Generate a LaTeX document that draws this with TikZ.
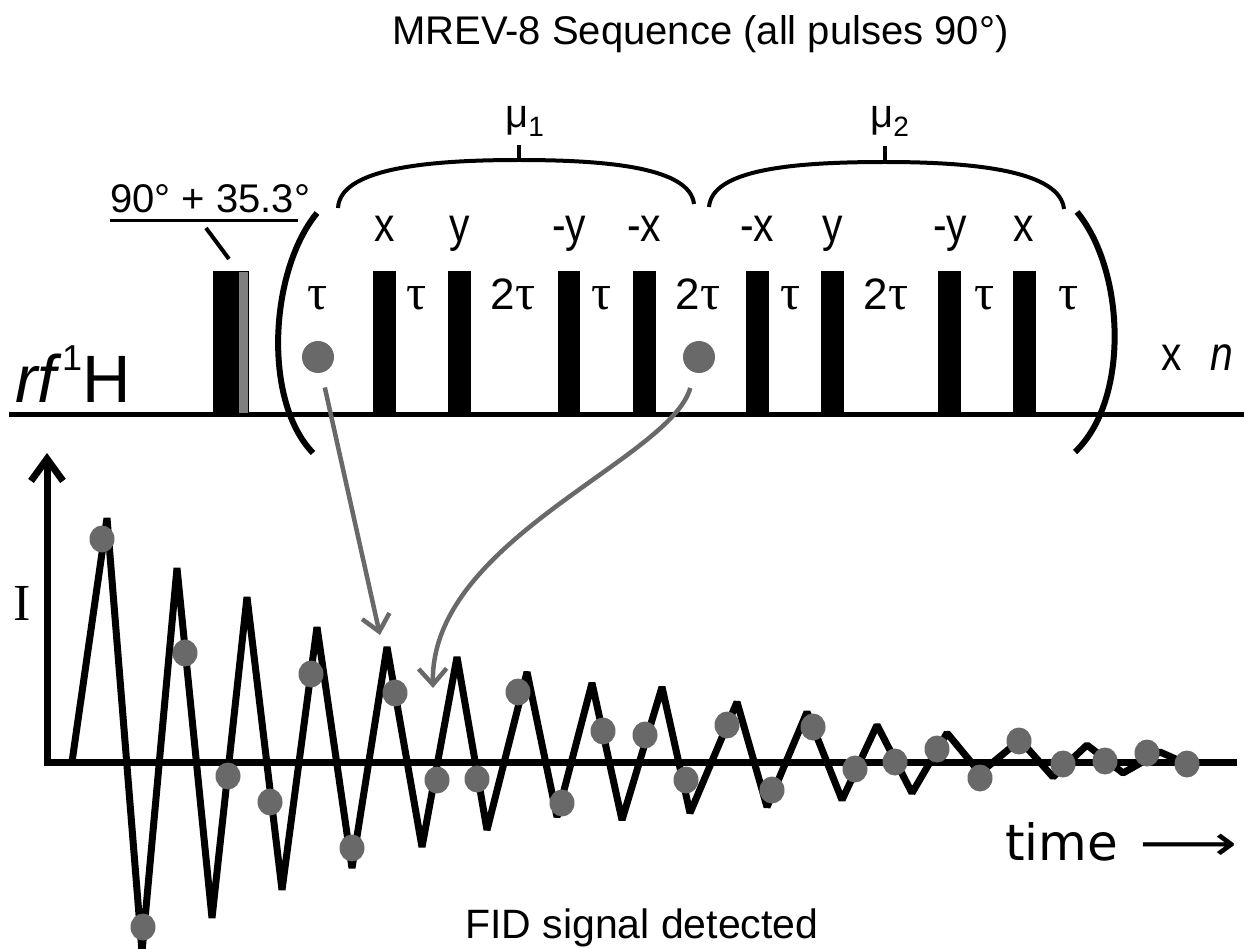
\documentclass[tikz,border=0pt]{standalone}
\usepackage{graphicx}
\usepackage{fontspec}
\setmainfont{Liberation Sans}
\newfontfamily\narrowfont{Liberation Sans}[FakeStretch=0.85]
\newfontfamily\taufont{Liberation Serif}
\newfontfamily\timefont{DejaVu Sans}
\usetikzlibrary{arrows.meta}
\definecolor{dotgray}{RGB}{105,105,105}
\definecolor{pulsegray}{RGB}{128,128,128}
\newcommand{\fsize}[1]{\fontsize{#1}{#1}\selectfont}
\newcommand{\tauglyph}{{\taufont\fsize{50}τ}}

\begin{document}
\begin{tikzpicture}[x=1pt, y=-1pt,
    pulse/.style={fill=black},
    pulselabel/.style={font=\narrowfont\fsize{48}, anchor=base, inner sep=0pt},
    delaylabel/.style={font=\fsize{44}, anchor=base, inner sep=0pt},
    plainlabel/.style={anchor=base west, inner sep=0pt},
    sampledot/.style={circle, fill=dotgray, inner sep=0pt, minimum size=32pt},
    samplearrow/.style={draw=dotgray, line width=4.5pt, -{Straight Barb[length=16pt,width=28pt]}},
    bracket/.style={line width=6pt},
    brace/.style={line width=4pt},
    fid/.style={line width=7pt}]

    \useasboundingbox (0,0) rectangle (1244,949);

    % Titel
    \node[plainlabel, font=\fsize{40}] (title) at (392,45) {MREV-8 Sequence (all pulses 90°)};

    % rf-Kanal
    \draw[line width=5pt] (9,414) -- (1244,414);
    \node[plainlabel, font=\fsize{67}] (rf) at (15,402) {\itshape rf\upshape\hspace{6pt}\raisebox{32pt}{\fsize{36}1}H};

    % Vorpuls 90 + 35.3
    \fill[pulse] (213,271) rectangle (238,414);
    \filldraw[fill=pulsegray, draw=black, line width=1pt] (238,272) rectangle (248,413);
    \node[plainlabel, font=\fsize{40}] (prep) at (110,213) {90° + 35.3°};
    \draw[line width=3pt] (110,221) -- (298,221);
    \draw[line width=4pt] (206,228) -- (229,259);

    % MREV-8 Pulse
    \fill[pulse] (373,271) rectangle (396,414);
    \fill[pulse] (448,271) rectangle (471,414);
    \fill[pulse] (558,271) rectangle (580,414);
    \fill[pulse] (633,271) rectangle (656,414);
    \fill[pulse] (746,271) rectangle (769,414);
    \fill[pulse] (821,271) rectangle (844,414);
    \fill[pulse] (938,271) rectangle (961,414);
    \fill[pulse] (1013,271) rectangle (1036,414);

    % Phasen
    \node[pulselabel] (ph1) at (385,242) {x};
    \node[pulselabel] (ph2) at (460,242) {y};
    \node[pulselabel] (ph3) at (569,242) {-y};
    \node[pulselabel] (ph4) at (644,242) {-x};
    \node[pulselabel] (ph5) at (757,242) {-x};
    \node[pulselabel] (ph6) at (833,242) {y};
    \node[pulselabel] (ph7) at (950,242) {-y};
    \node[pulselabel] (ph8) at (1024,242) {x};

    % Abstaende
    \node[delaylabel] (d1) at (318,309) {\tauglyph};
    \node[delaylabel] (d2) at (417,309) {\tauglyph};
    \node[delaylabel] (d3) at (513,309) {2\tauglyph};
    \node[delaylabel] (d4) at (602,309) {\tauglyph};
    \node[delaylabel] (d5) at (698,309) {2\tauglyph};
    \node[delaylabel] (d6) at (791,309) {\tauglyph};
    \node[delaylabel] (d7) at (886,309) {2\tauglyph};
    \node[delaylabel] (d8) at (985,309) {\tauglyph};
    \node[delaylabel] (d9) at (1069,309) {\tauglyph};

    % Klammern
    \draw[bracket] (317,213) .. controls (270,270) and (262,400) .. (313,453);
    \draw[bracket] (1077,212) .. controls (1125,270) and (1130,400) .. (1075,452);
    \node[plainlabel, font=\narrowfont\fsize{48}] (times) at (1161,370) {x\hspace{29pt}\textit{n}};

    % Zyklen mu1, mu2
    \draw[brace] (338,208) .. controls (340,170) and (420,160) .. (519,160) .. controls (610,160) and (690,168) .. (694,204);
    \draw[brace] (519,160) -- (519,145);
    \node[plainlabel, font=\fsize{40}] (mu1) at (505,128) {μ\raisebox{-9pt}{\fsize{28}1}};
    \draw[brace] (709,207) .. controls (712,170) and (790,162) .. (885,162) .. controls (980,162) and (1060,172) .. (1064,209);
    \draw[brace] (885,162) -- (885,146);
    \node[plainlabel, font=\fsize{40}] (mu2) at (870,128) {μ\raisebox{-9pt}{\fsize{28}2}};

    % Abtastpunkte
    \node[sampledot] (dotA) at (318,357) {};
    \node[sampledot] (dotB) at (699,357) {};

    % FID
    \draw[fid, {Straight Barb[length=22pt,width=32pt]}-] (47,453) -- (47,762) -- (1237,762);
    \node[font=\taufont\fsize{52}, inner sep=0pt] (intens) at (22,603) {I};
    \draw[fid, line join=bevel] (72,762) -- (107,518) -- (142,952) -- (177,568) -- (212,918) -- (247,597)
        -- (282,890) -- (317,627) -- (352,868) -- (387,647) -- (422,847) -- (457,657)
        -- (487,830) -- (527,672) -- (557,817) -- (592,683) -- (622,820) -- (662,687)
        -- (690,813) -- (737,702) -- (767,807) -- (807,712) -- (842,800) -- (877,725)
        -- (912,793) -- (947,733) -- (980,773) -- (1020,740) -- (1053,777) -- (1087,745)
        -- (1123,773) -- (1160,752) -- (1187,764);
    \foreach \px/\py in {102/539, 143/927, 185/653, 228/776, 270/802, 311/674, 352/848,
        395/693, 437/780, 477/779, 518/692, 562/803, 603/731, 645/735, 686/780, 727/725,
        772/790, 813/727, 855/769, 895/762, 937/749, 980/778, 1019/741, 1063/764,
        1105/761, 1147/753, 1187/764}
        \fill[dotgray] (\px,\py) ellipse (12.5pt and 13.5pt);
    \node[plainlabel, font=\fsize{41}] (fidlabel) at (465,938) {FID signal detected};
    \node[plainlabel, font=\timefont\fsize{50}] (timelabel) at (1005,860) {time\hspace{5pt} \scalebox{1.37}[1]{⟶}};

    % Zuordnung der Abtastpunkte
    \coordinate (tipA) at (380,635);
    \coordinate (tipB) at (433,688);
    \draw[samplearrow, shorten <=15pt] (dotA) -- (tipA);
    \draw[samplearrow, shorten <=16pt] (dotB) .. controls (670,460) and (430,540) .. (tipB);
\end{tikzpicture}
\end{document}
